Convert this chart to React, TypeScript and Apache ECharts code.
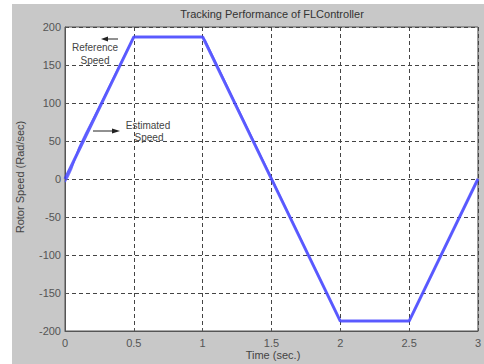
import React, { useEffect, useRef } from "react";
import * as echarts from "echarts";

const title = "Tracking Performance of FLController";
const xName = "Time (sec.)";
const yName = "Rotor Speed (Rad/sec)";
const xTicks = [0, 0.5, 1, 1.5, 2, 2.5, 3];
const yTicks = [-200, -150, -100, -50, 0, 50, 100, 150, 200];

const refTime = [0, 0.5, 1, 2, 2.5, 3];
const refSpeed = [0, 187, 187, -187, -187, 0];

const estTime = [0, 0.02, 0.05, 0.1, 0.15, 0.2, 0.25, 0.3, 0.4, 0.5, 1, 1.02, 2, 2.5, 3];
const estSpeed = [-4, 2, 14, 41, 60, 78, 96, 114, 151, 187, 187, 182, -187, -187, 0];

export default function App() {
  const ref = useRef<HTMLDivElement>(null);
  useEffect(() => {
    document.body.style.margin = "0";
    const chart = echarts.init(ref.current!, null, { renderer: "svg" });
    const font = "Liberation Sans, Arial, sans-serif";
    const gridLine = { show: true, lineStyle: { color: "#444", type: [4, 3] as any, width: 1 } };
    chart.setOption({
      animation: false,
      backgroundColor: "#ffffff",
      graphic: [
        { type: "rect", z: -10, shape: { x: 12, y: 4, width: 480, height: 370 }, style: { fill: "#c8c8c8" }, silent: true },
        { type: "text", x: 272, y: 14, style: { text: title, fill: "#333", font: `11px ${font}`, align: "center", verticalAlign: "middle" } },
        { type: "text", x: 273, y: 355, style: { text: xName, fill: "#444", font: `11px ${font}`, align: "center", verticalAlign: "middle" } },
        { type: "text", x: 20, y: 177, rotation: Math.PI / 2, style: { text: yName, fill: "#444", font: `11px ${font}`, align: "center", verticalAlign: "middle" } },
        { type: "text", x: 95, y: 47, z: 20, style: { text: "Reference", fill: "#444", font: `10px ${font}`, align: "center", verticalAlign: "middle" } },
        { type: "text", x: 95, y: 60, z: 20, style: { text: "Speed", fill: "#444", font: `10px ${font}`, align: "center", verticalAlign: "middle" } },
        { type: "line", z: 20, shape: { x1: 118, y1: 39, x2: 106, y2: 39 }, style: { stroke: "#222", lineWidth: 1 } },
        { type: "polygon", z: 20, shape: { points: [[101, 39], [108, 36.5], [108, 41.5]] }, style: { fill: "#222" } },
        { type: "text", x: 148, y: 125, z: 20, style: { text: "Estimated", fill: "#444", font: `10px ${font}`, align: "center", verticalAlign: "middle" } },
        { type: "text", x: 149, y: 137, z: 20, style: { text: "Speed", fill: "#444", font: `10px ${font}`, align: "center", verticalAlign: "middle" } },
        { type: "line", z: 20, shape: { x1: 93, y1: 131, x2: 114, y2: 131 }, style: { stroke: "#222", lineWidth: 1 } },
        { type: "polygon", z: 20, shape: { points: [[120, 131], [112, 128.5], [112, 133.5]] }, style: { fill: "#222" } },
      ],
      grid: { left: 65, top: 27, right: 0, bottom: 33, show: true, backgroundColor: "#ffffff", borderColor: "#555", borderWidth: 1 },
      xAxis: {
        type: "value", min: 0, max: 3, interval: 0.5,
        axisLine: { show: true, onZero: false, lineStyle: { color: "#555" } },
        axisTick: { show: true, inside: true, length: 3, lineStyle: { color: "#555" } },
        axisLabel: { color: "#555", fontSize: 11, fontFamily: font, margin: 6, formatter: (v: number) => (xTicks.includes(v) ? String(v) : "") },
        splitLine: gridLine,
      },
      yAxis: {
        type: "value", min: -200, max: 200, interval: 50,
        axisLine: { show: true, onZero: false, lineStyle: { color: "#555" } },
        axisTick: { show: true, inside: true, length: 3, lineStyle: { color: "#555" } },
        axisLabel: { color: "#555", fontSize: 11, fontFamily: font, margin: 4, formatter: (v: number) => (yTicks.includes(v) ? String(v) : "") },
        splitLine: gridLine,
      },
      series: [
        {
          name: "Reference Speed", type: "line", showSymbol: false, symbol: "none",
          data: refTime.map((t, i) => [t, refSpeed[i]]),
          lineStyle: { color: "#3a3aff", width: 3, opacity: 0.8 },
        },
        {
          name: "Estimated Speed", type: "line", showSymbol: false, symbol: "none",
          data: estTime.map((t, i) => [t, estSpeed[i]]),
          lineStyle: { color: "#5555ff", width: 1.5, opacity: 0.8 },
        },
      ],
    });
    return () => chart.dispose();
  }, []);
  return <div ref={ref} style={{ width: 484, height: 364 }} />;
}
